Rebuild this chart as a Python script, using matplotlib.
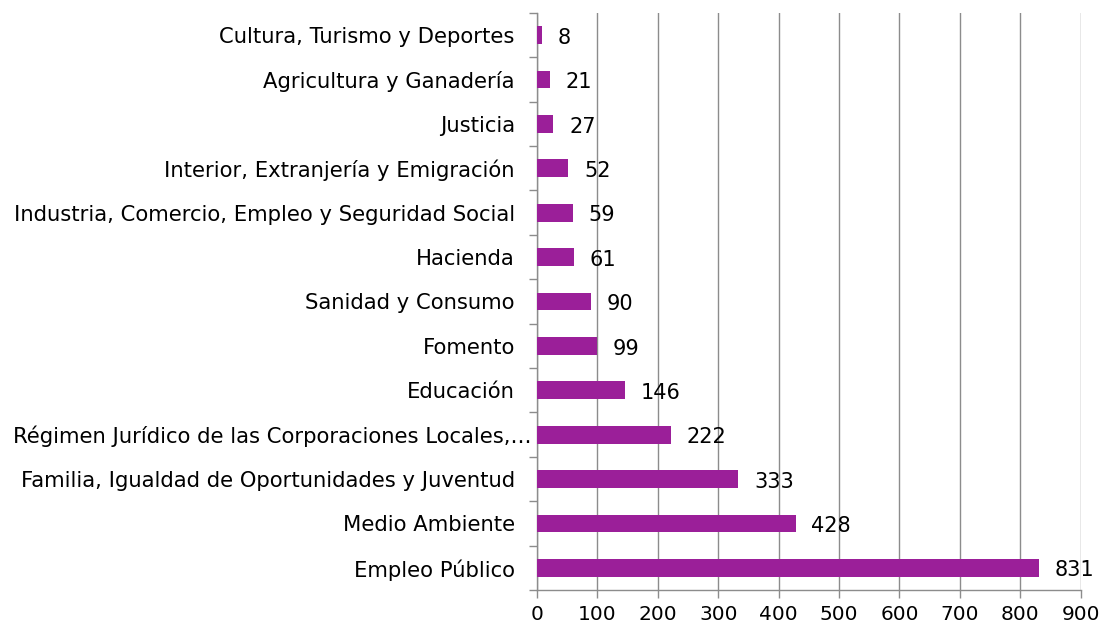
import matplotlib.pyplot as plt
import matplotlib.transforms as mtransforms
import numpy as np

categorias = ["Empleo Público", "Medio Ambiente",
              "Familia, Igualdad de Oportunidades y Juventud",
              "Régimen Jurídico de las Corporaciones Locales,…",
              "Educación", "Fomento", "Sanidad y Consumo", "Hacienda",
              "Industria, Comercio, Empleo y Seguridad Social",
              "Interior, Extranjería y Emigración", "Justicia",
              "Agricultura y Ganadería", "Cultura, Turismo y Deportes"]
valores = [831, 428, 333, 222, 146, 99, 90, 61, 59, 52, 27, 21, 8]
xticks = list(range(0, 1000, 100))

color_barra = "#9B1F99"
gris = "#8C8C8C"

fig = plt.figure(figsize=(11.05, 6.30), dpi=100)
ax = fig.add_axes([0.486, 0.0635, 0.492, 0.916])

y = np.arange(len(categorias))
ax.barh(y, valores, height=0.4, color=color_barra, zorder=3)

for yi, v in zip(y, valores):
    ax.text(v + 26, yi - 0.06, str(v), va="center", ha="left", fontsize=15, zorder=4)

ax.set_xlim(0, 900)
ax.set_ylim(-0.5, len(categorias) - 0.5)
ax.set_xticks(xticks)
ax.set_xticklabels([str(t) for t in xticks], fontsize=14.5)
ax.set_yticks(y)
ax.set_yticklabels(categorias, fontsize=15.2)
ax.tick_params(axis="y", length=0, pad=16)
ax.set_yticks(np.arange(-0.5, len(categorias), 1), minor=True)
ax.tick_params(axis="y", which="minor", length=6, color=gris, width=1)
ax.tick_params(axis="x", length=6, color=gris, width=1, pad=5)

# la etiqueta truncada llega casi hasta el eje
for lbl in ax.get_yticklabels():
    if lbl.get_text().endswith("…"):
        lbl.set_transform(lbl.get_transform() +
                          mtransforms.ScaledTranslation(17 / 100, 0, fig.dpi_scale_trans))

ax.grid(axis="x", color=gris, linewidth=1, zorder=0)
for s in ["top", "right"]:
    ax.spines[s].set_visible(False)
for s in ["left", "bottom"]:
    ax.spines[s].set_color(gris)
    ax.spines[s].set_linewidth(1)

fig.savefig("out.png", dpi=100)
